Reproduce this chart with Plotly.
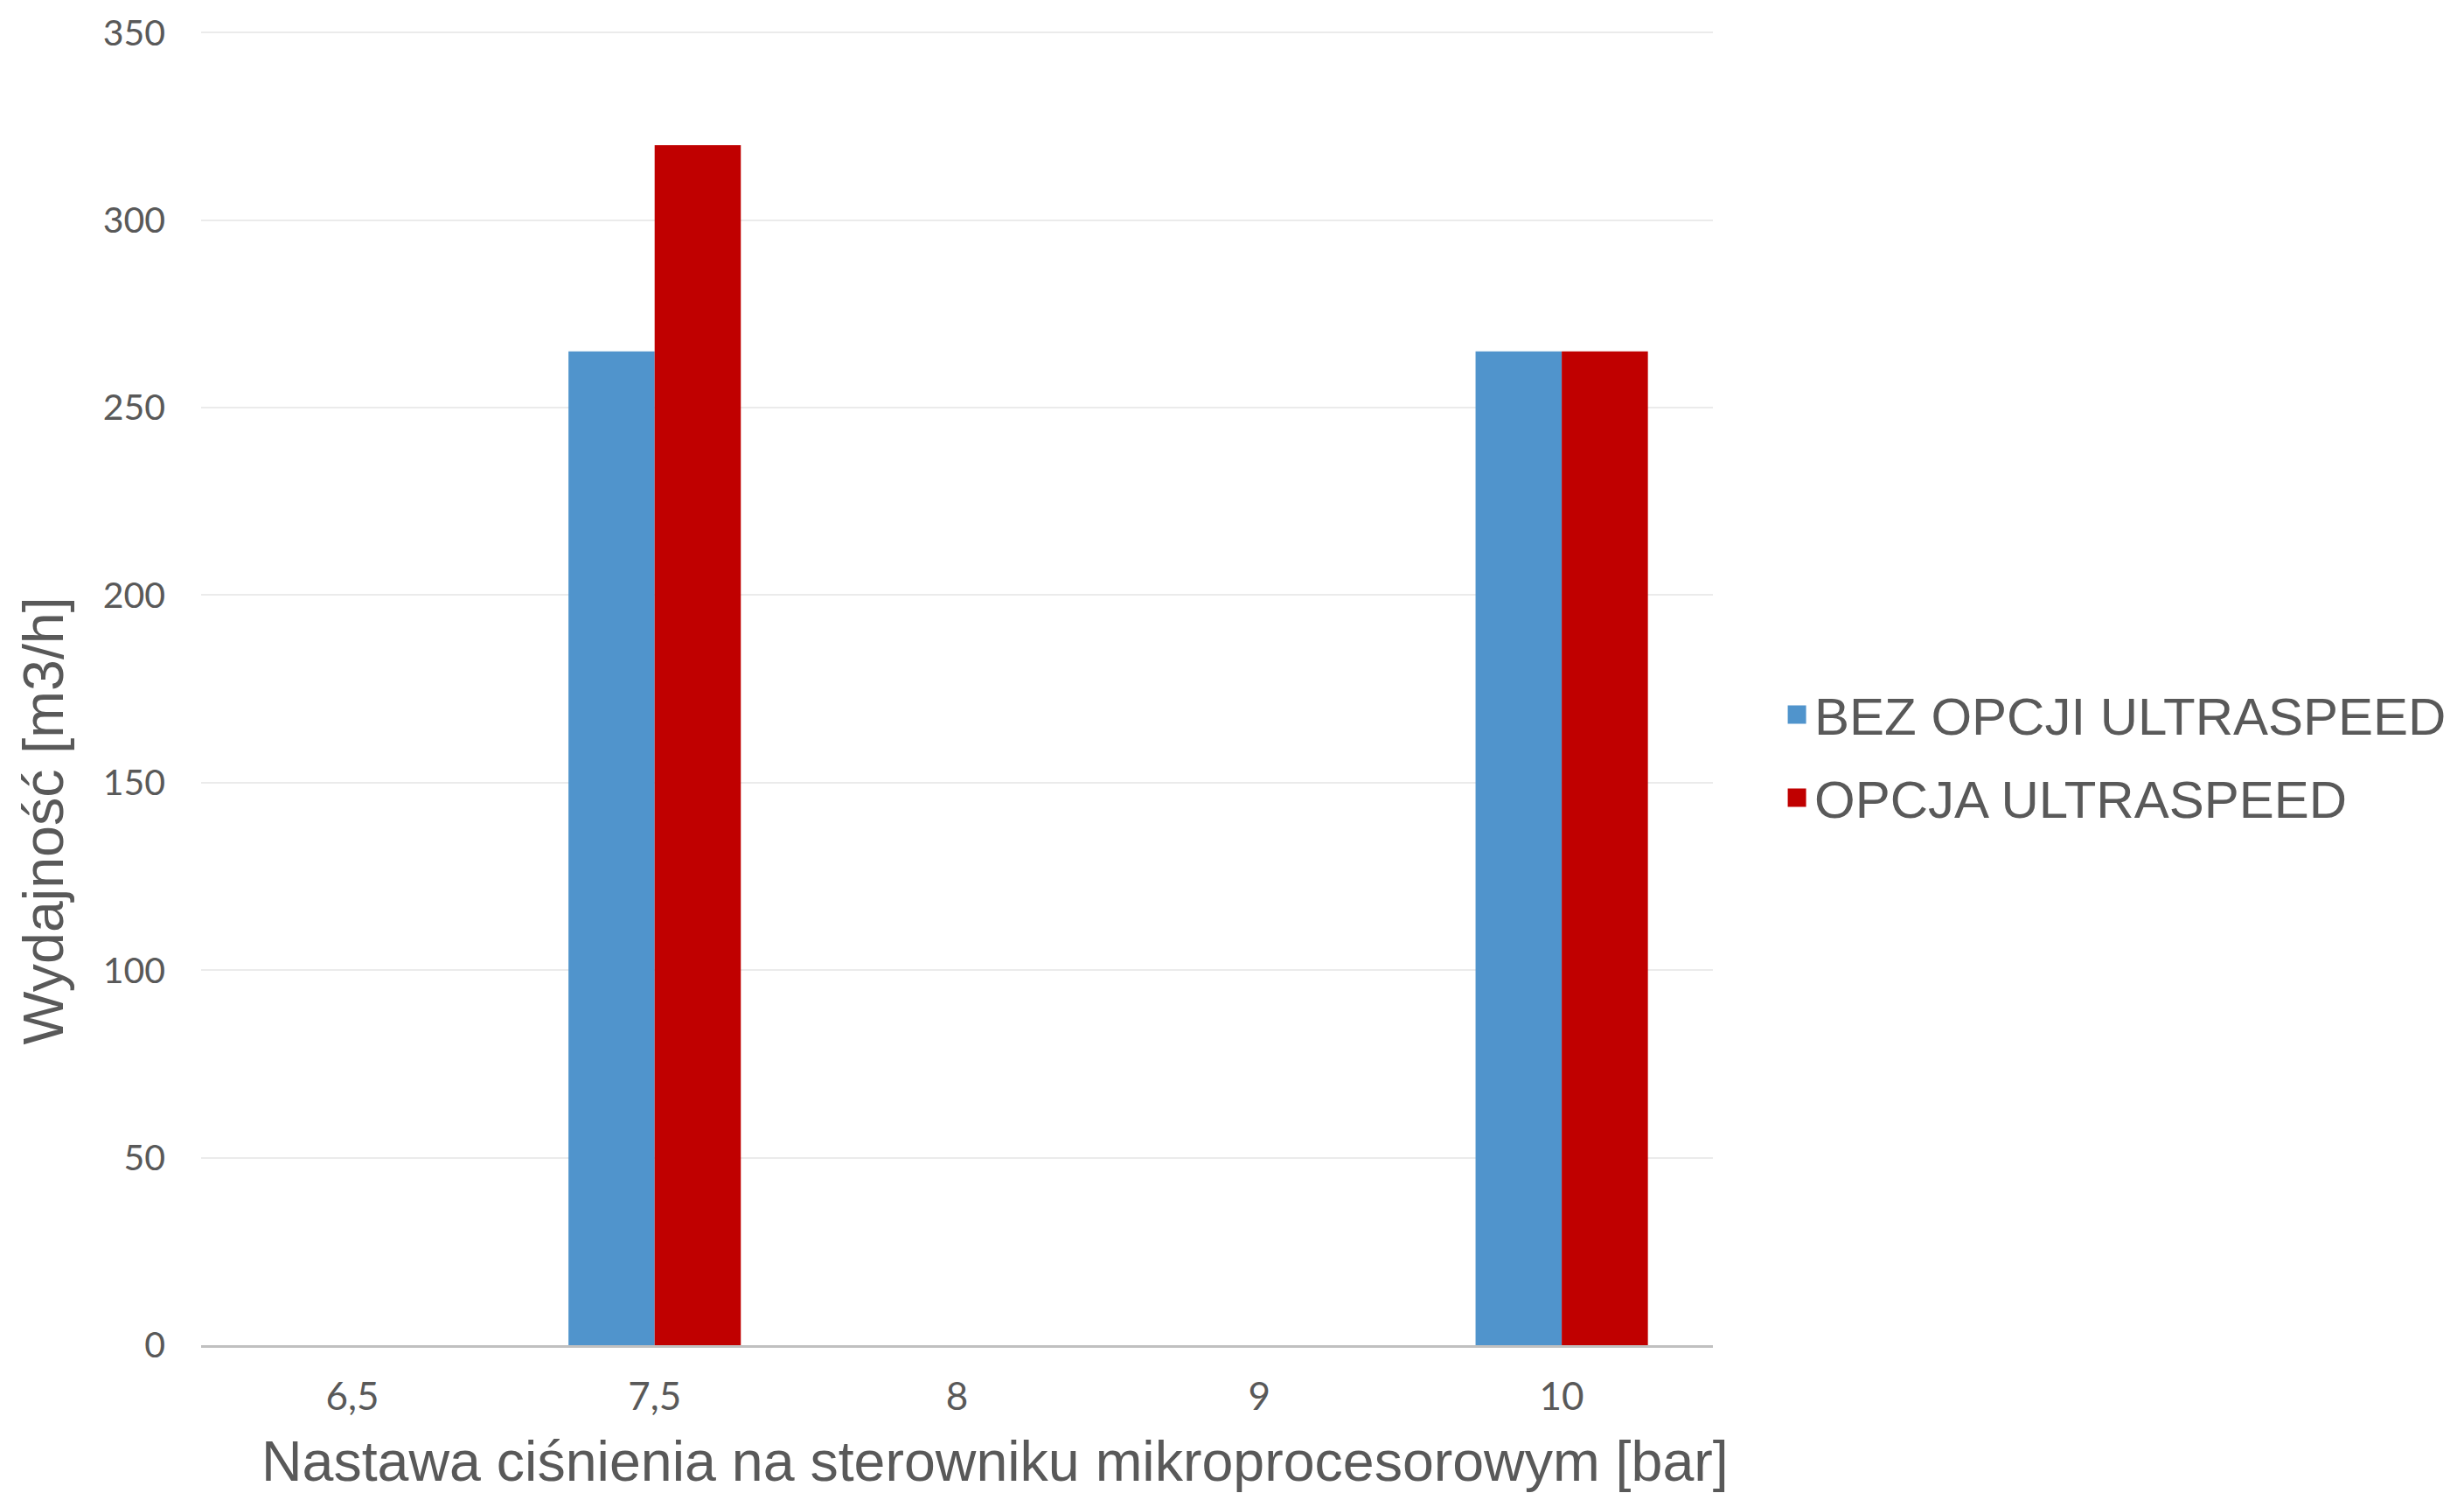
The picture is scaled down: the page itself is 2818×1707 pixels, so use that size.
import plotly.graph_objects as go

# Compressor output per controller pressure setting
categories = ["6,5", "7,5", "8", "9", "10"]
series_names = ["BEZ OPCJI ULTRASPEED", "OPCJA ULTRASPEED"]
values_standard = [0, 265, 0, 0, 265]
values_ultraspeed = [0, 320, 0, 0, 265]
series_colors = ["#5094cc", "#c00000"]

y_ticks = [0, 50, 100, 150, 200, 250, 300, 350]

x_title = "Nastawa ciśnienia na sterowniku mikroprocesorowym [bar]"
y_title = "Wydajność [m3/h]"

TEXT_COLOR = "#595959"
Y_TICK_FONT = dict(family="Lato, Open Sans, sans-serif", size=41, color=TEXT_COLOR)
X_TICK_FONT = dict(family="Lato, Open Sans, sans-serif", size=44, color=TEXT_COLOR)
TITLE_FONT = dict(family="Liberation Sans, Arial, sans-serif", size=64.5, color=TEXT_COLOR)

fig = go.Figure()

for name, vals, color in zip(series_names, [values_standard, values_ultraspeed], series_colors):
    fig.add_trace(go.Bar(
        x=categories, y=vals, name=name,
        marker=dict(color=color, line=dict(width=0)),
        showlegend=False,
    ))

# Legend entries with larger square swatches
for i, (name, color) in enumerate(zip(series_names, series_colors)):
    fig.add_trace(go.Scatter(
        x=[None], y=[None], mode="markers", name=name,
        legendgroup=f"g{i}",
        marker=dict(symbol="square", size=16, color=color,
                    line=dict(width=5, color=color)),
    ))

fig.update_layout(
    width=2818, height=1707,
    margin=dict(l=230, r=859, t=27, b=169),
    paper_bgcolor="white", plot_bgcolor="white",
    barmode="group", bargap=0.43, bargroupgap=0,
    legend=dict(
        x=1.044, xanchor="left", y=0.4475, yanchor="middle",
        font=dict(family="Liberation Sans, Arial, sans-serif", size=60, color=TEXT_COLOR),
        traceorder="grouped", tracegroupgap=14,
        bgcolor="rgba(0,0,0,0)",
    ),
    showlegend=True,
)

fig.update_xaxes(
    type="category", categoryorder="array", categoryarray=categories,
    showgrid=False, showline=True, linecolor="#c0c0c0", linewidth=3,
    ticks="", tickfont=X_TICK_FONT, ticklabelstandoff=18,
)
fig.update_yaxes(
    range=[0, 351], tickvals=y_ticks, showgrid=True,
    gridcolor="#ebebeb", gridwidth=2, zeroline=False, showline=False,
    ticks="", tickfont=Y_TICK_FONT, ticklabelstandoff=40,
)

fig.add_annotation(
    text=x_title, xref="paper", yref="paper", x=0.525, y=-0.0883,
    xanchor="center", yanchor="middle", showarrow=False, font=TITLE_FONT,
)
fig.add_annotation(
    text=y_title, xref="paper", yref="paper", x=-0.104, y=0.3985,
    xanchor="center", yanchor="middle", textangle=-90, showarrow=False,
    font=TITLE_FONT,
)

fig.write_html("out.html")
